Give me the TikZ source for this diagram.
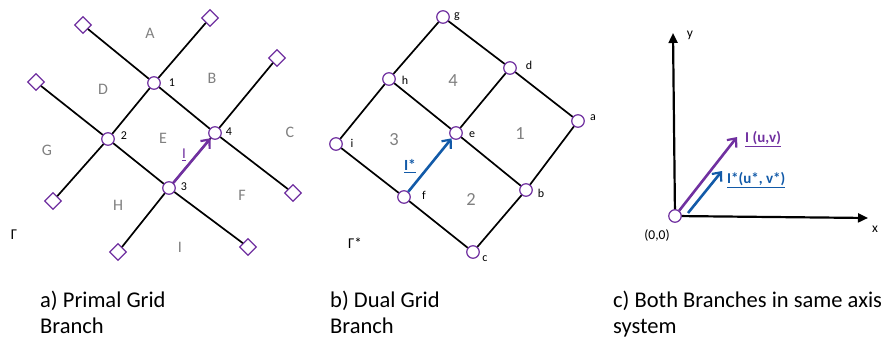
\documentclass[tikz,border=0pt]{standalone}
\usepackage{fontspec}
\setmainfont{Carlito}
\usetikzlibrary{shapes.geometric,arrows.meta}
\definecolor{pur}{RGB}{112,48,160}
\definecolor{blu}{RGB}{18,90,168}
\definecolor{gry}{RGB}{128,128,128}
\begin{document}
\begin{tikzpicture}[x=1pt,y=-1pt,
  vtx/.style={circle,draw=pur,fill=white,line width=1.2pt,minimum size=12.5pt,inner sep=0pt},
  termbox/.style={diamond,draw=pur,fill=white,line width=1.2pt,minimum size=17pt,inner sep=0pt},
  lnk/.style={draw=black,line width=1.7pt},
  facelbl/.style={text=gry,font=\fontsize{16}{18}\selectfont,inner sep=0pt},
  dfacelbl/.style={text=gry,font=\fontsize{18.5}{21}\selectfont,inner sep=0pt},
  numlbl/.style={font=\fontsize{12}{14}\selectfont,inner sep=0pt},
  captxt/.style={font=\fontsize{22.5}{26}\selectfont,align=left,anchor=north west,inner sep=0pt},
  parr/.style={draw=pur,line width=2.6pt,-{Straight Barb[length=7pt,width=12pt,line width=2.2pt]}},
  barr/.style={draw=blu,line width=2.6pt,-{Straight Barb[length=7pt,width=12pt,line width=2.2pt]}},
  axisline/.style={draw=black,line width=2.2pt,-{Triangle[length=10pt,width=9pt]}}
]
\useasboundingbox (0,0) rectangle (891,340);
% ---------- primal grid ----------
\node[vtx] (p1) at (154,83) {};
\node[vtx] (p2) at (108,139) {};
\node[vtx] (p3) at (169,188) {};
\node[vtx] (p4) at (215,133) {};
\node[termbox] (t1) at (83,25) {};
\node[termbox] (t2) at (210,18) {};
\node[termbox] (t3) at (277,58) {};
\node[termbox] (t4) at (36,82) {};
\node[termbox] (t5) at (53,201) {};
\node[termbox] (t6) at (118,252) {};
\node[termbox] (t7) at (248,247) {};
\node[termbox] (t8) at (293,193) {};
\draw[lnk] (t1) -- (p1);
\draw[lnk] (p1) -- (p4);
\draw[lnk] (p4) -- (t8);
\draw[lnk] (t4) -- (p2);
\draw[lnk] (p2) -- (p3);
\draw[lnk] (p3) -- (t7);
\draw[lnk] (t2) -- (p1);
\draw[lnk] (p1) -- (p2);
\draw[lnk] (p2) -- (t5);
\draw[lnk] (t3) -- (p4);
\draw[lnk] (p4) -- (p3);
\draw[lnk] (p3) -- (t6);
\draw[parr] (p3) -- (p4);
\node[text=pur,font=\fontsize{15}{17}\selectfont,inner sep=0pt] (lI) at (184,155) {\underline{I}};
\node[numlbl] (n1) at (172,83) {1};
\node[numlbl] (n2) at (124,136) {2};
\node[numlbl] (n3) at (184,187) {3};
\node[numlbl] (n4) at (229,132) {4};
\node[facelbl] (fA) at (150,33) {A};
\node[facelbl] (fB) at (212,78) {B};
\node[facelbl] (fC) at (290,132) {C};
\node[facelbl] (fD) at (103,89) {D};
\node[facelbl] (fE) at (163,138) {E};
\node[facelbl] (fF) at (242,195) {F};
\node[facelbl] (fG) at (47,150) {G};
\node[facelbl] (fH) at (118,205) {H};
\node[facelbl] (fI) at (180,247) {I};
\node[font=\fontsize{15}{17}\selectfont,inner sep=0pt] (gam) at (14,235) {Γ};
% ---------- dual grid ----------
\node[vtx] (g) at (443,17) {};
\node[vtx] (d) at (510,68) {};
\node[vtx] (a) at (578,121) {};
\node[vtx] (h) at (389,79) {};
\node[vtx] (e) at (456,133) {};
\node[vtx] (b) at (526,190) {};
\node[vtx] (i) at (336,144) {};
\node[vtx] (f) at (404,197) {};
\node[vtx] (c) at (473,252) {};
\draw[lnk] (g) -- (d);
\draw[lnk] (d) -- (a);
\draw[lnk] (h) -- (e);
\draw[lnk] (e) -- (b);
\draw[lnk] (i) -- (f);
\draw[lnk] (f) -- (c);
\draw[lnk] (g) -- (h);
\draw[lnk] (h) -- (i);
\draw[lnk] (d) -- (e);
\draw[lnk] (a) -- (b);
\draw[lnk] (b) -- (c);
\draw[barr] (f) -- (e);
\node[text=blu,font=\bfseries\fontsize{15.5}{17}\selectfont,inner sep=0pt] (lIs) at (410,166) {\underline{I*}};
\node[numlbl] (lg) at (457,17) {g};
\node[numlbl] (ld) at (529,65) {d};
\node[numlbl] (la) at (593,118) {a};
\node[numlbl] (lh) at (405,80) {h};
\node[numlbl] (le) at (472,135) {e};
\node[numlbl] (lb) at (541,193) {b};
\node[numlbl] (li) at (352,143) {i};
\node[numlbl] (lf) at (424,195) {f};
\node[numlbl] (lc) at (485,259) {c};
\node[dfacelbl] (d4) at (453,81) {4};
\node[dfacelbl] (d1) at (520,134) {1};
\node[dfacelbl] (d3) at (394,140) {3};
\node[dfacelbl] (d2) at (471,199) {2};
\node[font=\fontsize{15}{17}\selectfont,inner sep=0pt] (gams) at (355,243) {Γ*};
% ---------- axes ----------
\coordinate (yend) at (673,33);
\coordinate (xend) at (868,218);
\coordinate (bs) at (688,213);
\coordinate (be) at (722,171);
\coordinate (pe) at (737,137);
\coordinate (org) at (675,216);
\draw[axisline] (org) -- (yend);
\draw[axisline] (org) -- (xend);
\draw[barr] (bs) -- (be);
\node[vtx] (o) at (org) {};
\draw[parr] (o) -- (pe);
\node[font=\fontsize{13.5}{15}\selectfont,inner sep=0pt] (ly) at (690,35) {y};
\node[font=\fontsize{13.5}{15}\selectfont,inner sep=0pt] (lx) at (875,229) {x};
\node[font=\fontsize{13.5}{15}\selectfont,inner sep=0pt] (l00) at (657,235) {(0,0)};
\node[text=pur,font=\bfseries\fontsize{15}{17}\selectfont,inner sep=0pt,anchor=west] (luv) at (745,139) {\underline{I (u,v)}};
\node[text=blu,font=\bfseries\fontsize{15}{17}\selectfont,inner sep=0pt,anchor=west] (lusv) at (727,180) {\underline{I*(u*, v*)}};
% ---------- captions ----------
\node[captxt] (ca) at (40,291) {a) Primal Grid\\Branch};
\node[captxt] (cb) at (330,291) {b) Dual Grid\\Branch};
\node[captxt] (cc) at (613,291) {c) Both Branches in same axis\\system};
\end{tikzpicture}
\end{document}
